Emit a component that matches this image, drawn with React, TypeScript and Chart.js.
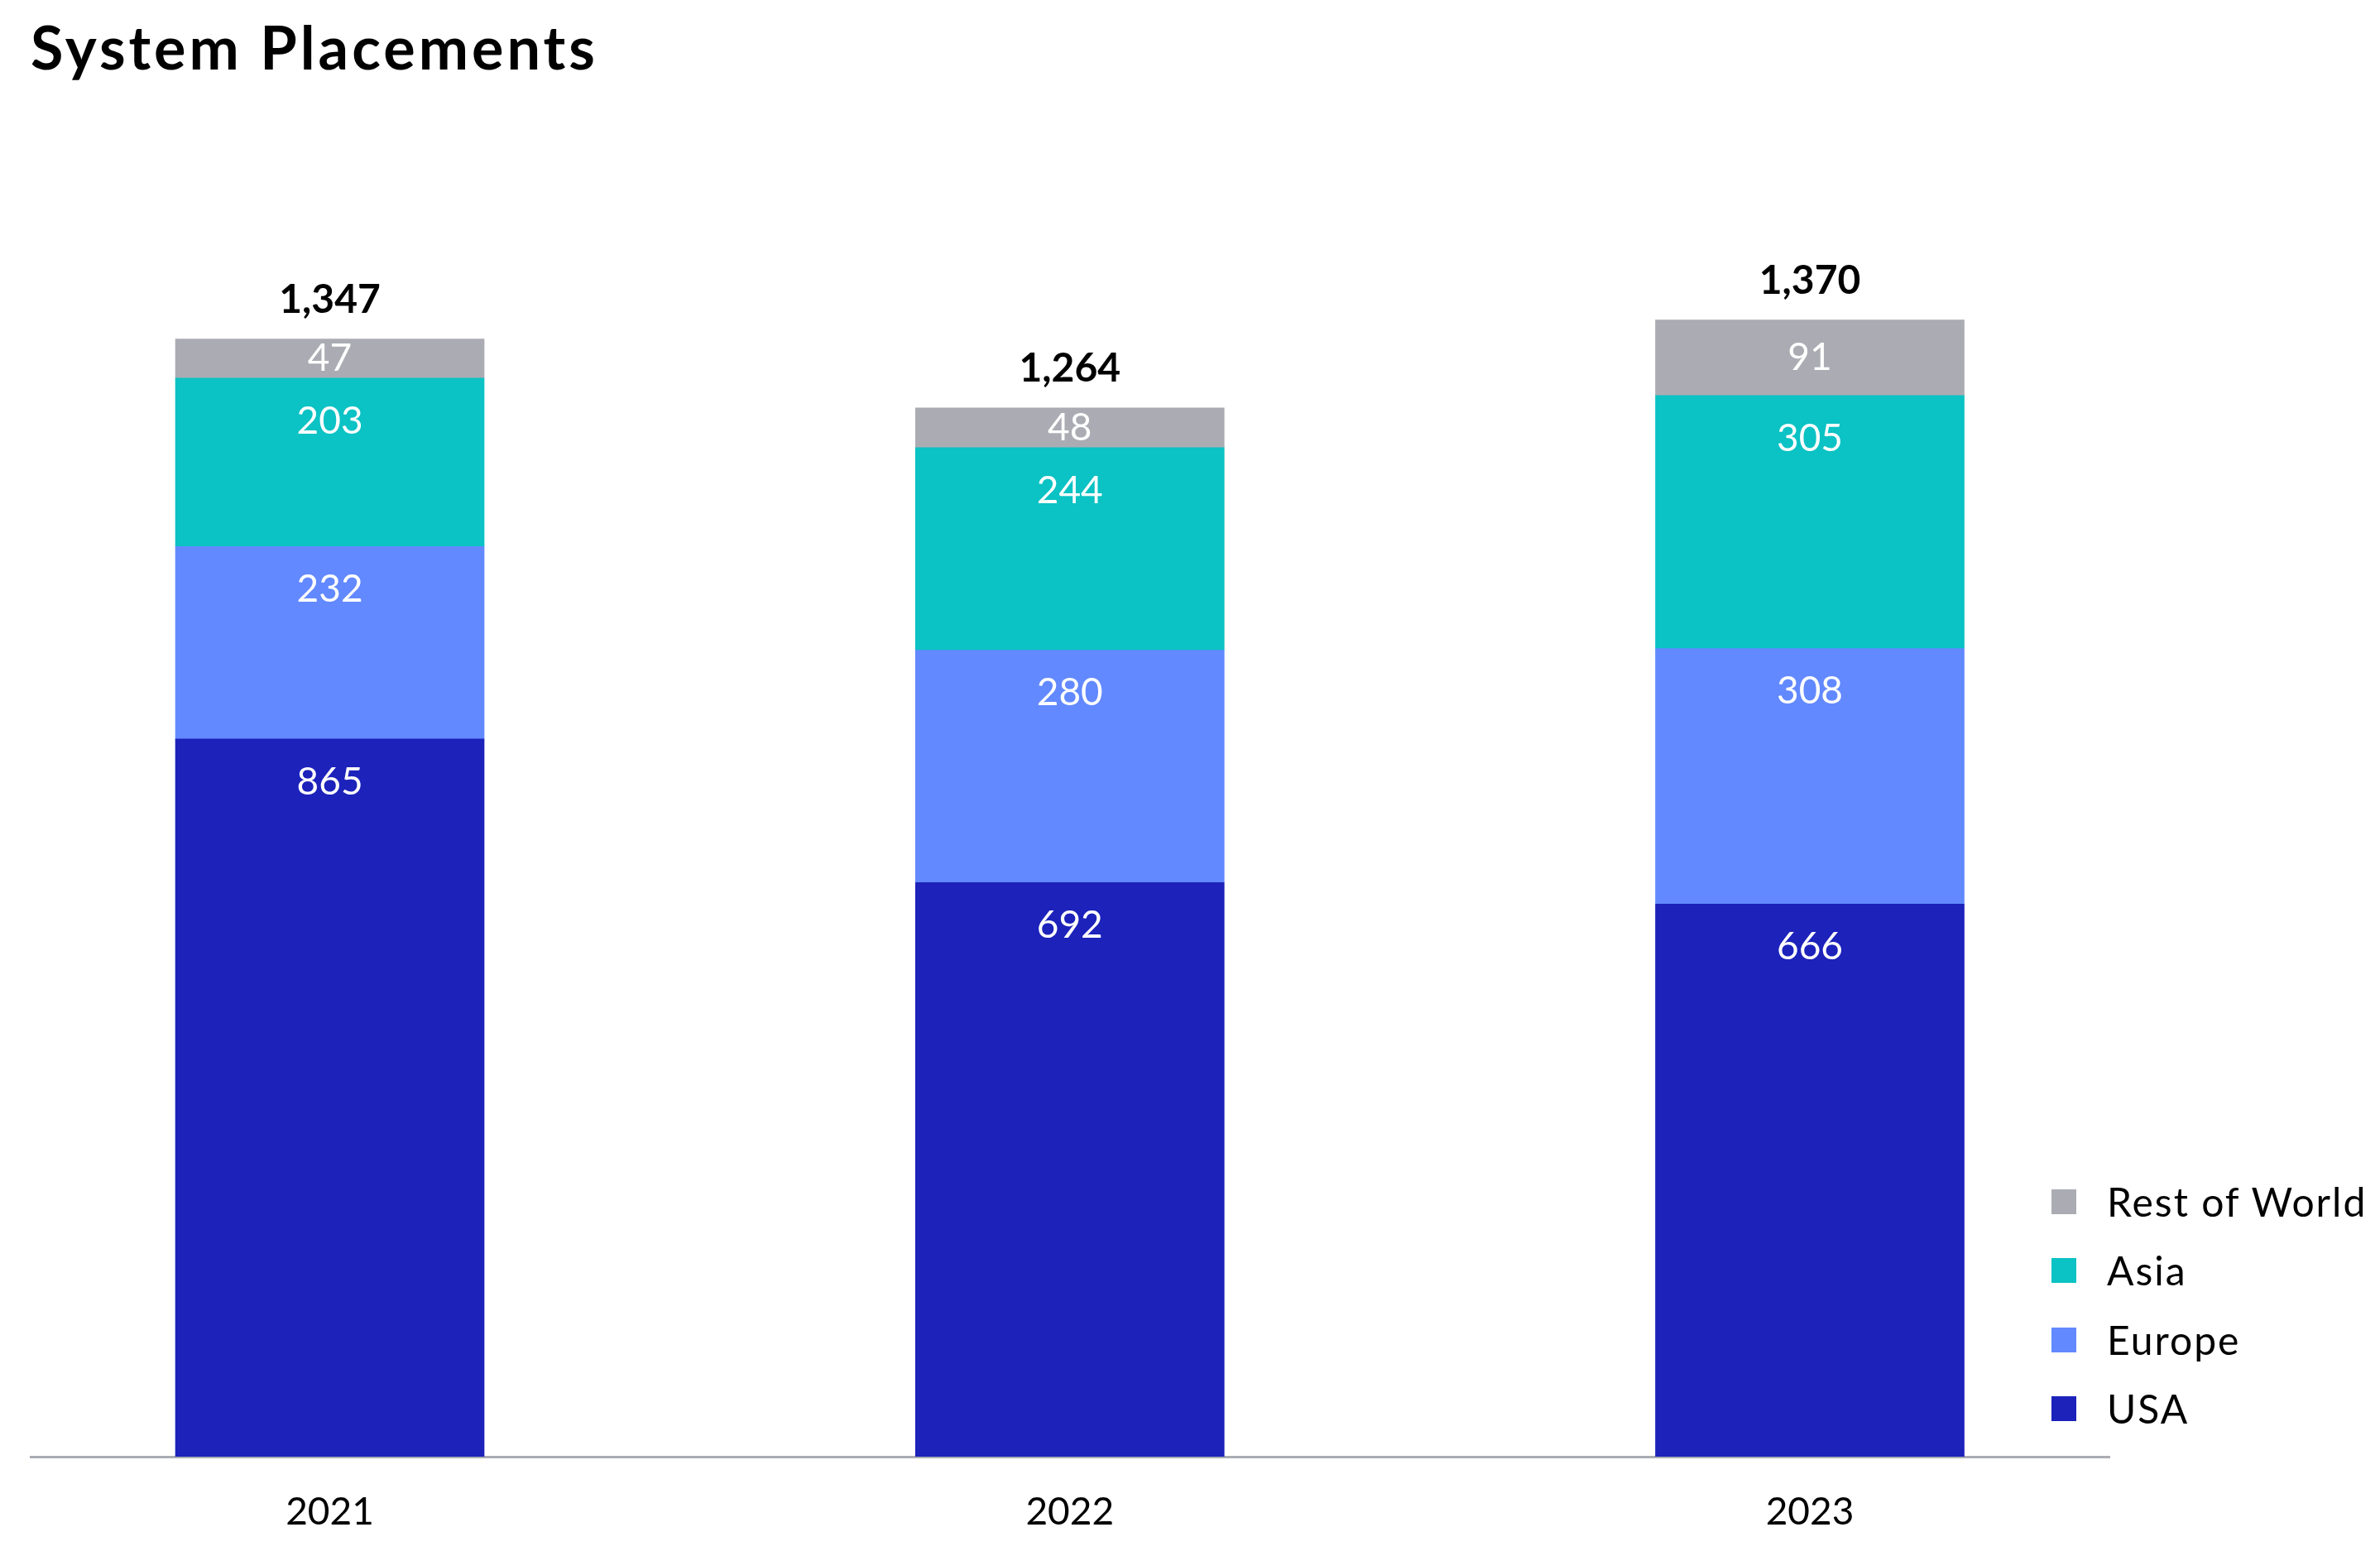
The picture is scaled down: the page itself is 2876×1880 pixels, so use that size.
import React, { useEffect, useRef } from 'react';
import { Chart, registerables } from 'chart.js';

Chart.register(...registerables);

const chartTitle = 'System Placements';
const years = ['2021', '2022', '2023'];
const yearIndex = [0, 1, 2];
const usa = [865, 692, 666];
const europe = [232, 280, 308];
const asia = [203, 244, 305];
const restOfWorld = [47, 48, 91];
const seriesNames = ['USA', 'Europe', 'Asia', 'Rest of World'];
const seriesValues = [usa, europe, asia, restOfWorld];
const seriesColors = ['#1C22BA', '#6289FF', '#0BC2C4', '#ABACB3'];
const totals = yearIndex.map((i) => seriesValues.reduce((s, arr) => s + arr[i], 0));

const FONT = 'Lato';

const titlePlugin = {
  id: 'customTitle',
  afterDraw(chart: any) {
    const ctx = chart.ctx;
    ctx.save();
    ctx.font = `bold 72px ${FONT}`;
    (ctx as any).letterSpacing = '4px';
    ctx.fillStyle = '#000000';
    ctx.textAlign = 'left';
    ctx.textBaseline = 'alphabetic';
    ctx.fillText(chartTitle, 37, 84);
    ctx.restore();
  },
};

const labelPlugin = {
  id: 'segmentLabels',
  afterDatasetsDraw(chart: any) {
    const ctx = chart.ctx;
    ctx.save();
    ctx.textAlign = 'center';
    const n = chart.data.datasets.length;
    chart.data.datasets.forEach((ds: any, di: number) => {
      const meta = chart.getDatasetMeta(di);
      meta.data.forEach((bar: any, i: number) => {
        const { x, y, base } = bar.getProps(['x', 'y', 'base'], true);
        const h = base - y;
        ctx.fillStyle = '#FFFFFF';
        ctx.font = `46px ${FONT}`;
        ctx.textBaseline = 'middle';
        ctx.fillText(String(ds.data[i].y), x, y + Math.min(52, h / 2));
      });
    });
    const topMeta = chart.getDatasetMeta(n - 1);
    topMeta.data.forEach((bar: any, i: number) => {
      ctx.font = `bold 48px ${FONT}`;
      ctx.fillStyle = '#000000';
      ctx.textBaseline = 'alphabetic';
      ctx.fillText(totals[i].toLocaleString('en-US'), bar.x, bar.y - 32);
    });
    ctx.restore();
  },
};

export default function App() {
  const ref = useRef<HTMLCanvasElement | null>(null);

  useEffect(() => {
    document.body.style.margin = '0';
    if (!ref.current) return;
    const chart = new Chart(ref.current, {
      type: 'bar',
      data: {
        datasets: seriesNames.map((name, si) => ({
          label: name,
          data: yearIndex.map((x, i) => ({ x, y: seriesValues[si][i] })),
          backgroundColor: seriesColors[si],
          borderWidth: 0,
          barThickness: 373,
        })),
      },
      options: {
        animation: false,
        responsive: true,
        maintainAspectRatio: false,
        layout: { padding: { left: 37, right: 327, top: 160, bottom: 0 } },
        plugins: {
          legend: { display: false },
          tooltip: { enabled: false },
          title: { display: false },
        },
        scales: {
          x: {
            type: 'linear',
            bounds: 'data',
            offset: false,
            min: -0.4043,
            max: 2.4048,
            stacked: true,
            z: 1,
            grid: { display: false, drawTicks: false, offset: false },
            border: { display: true, color: '#ABACB3', width: 3 },
            ticks: {
              callback: (v: any) => years[v] ?? '',
              font: { family: FONT, size: 46 },
              color: '#000000',
              padding: 40,
            },
            afterBuildTicks: (s: any) => {
              s.ticks = yearIndex.map((v) => ({ value: v }));
            },
            afterFit: (s: any) => {
              s.height = 120;
            },
          },
          y: { display: false, stacked: true, min: 0, max: 1596 },
        },
      } as any,
      plugins: [labelPlugin, titlePlugin],
    });
    return () => chart.destroy();
  }, []);

  const legendOrder = [3, 2, 1, 0];

  return (
    <div style={{ position: 'relative', width: 2876, height: 1880, overflow: 'hidden', background: '#FFFFFF' }}>
      <canvas ref={ref} style={{ position: 'absolute', left: 0, top: 0 }} />
      <div style={{ position: 'absolute', left: 2479, top: 1410, fontFamily: FONT }}>
        {legendOrder.map((si) => (
          <div key={si} style={{ display: 'flex', alignItems: 'center', height: 83.5 }}>
            <div style={{ width: 30, height: 30, background: seriesColors[si], marginRight: 37 }} />
            <span style={{ fontSize: 48, letterSpacing: 2, color: '#000000', lineHeight: 1, whiteSpace: 'nowrap' }}>
              {seriesNames[si]}
            </span>
          </div>
        ))}
      </div>
    </div>
  );
}
